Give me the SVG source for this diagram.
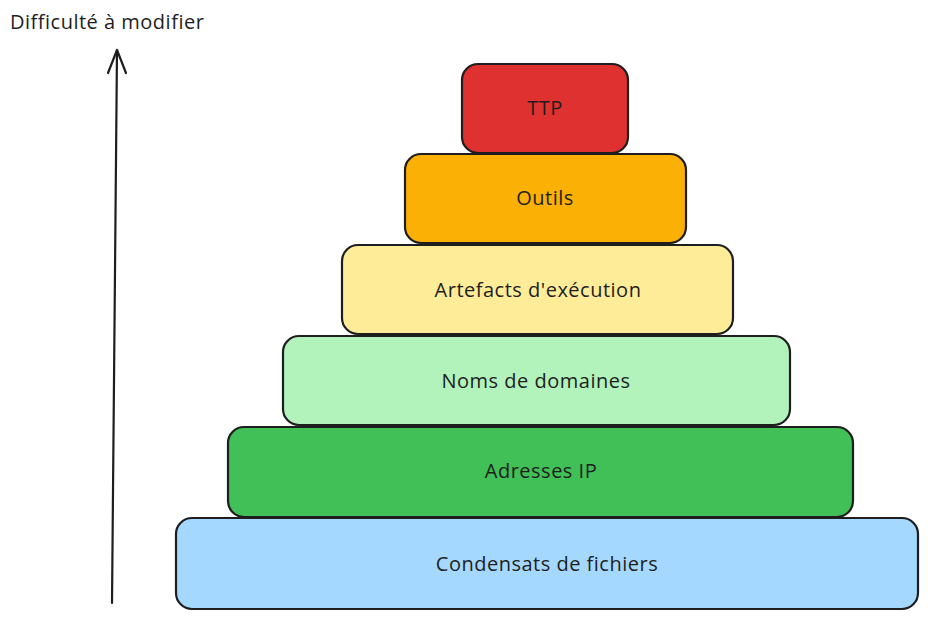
<svg xmlns="http://www.w3.org/2000/svg" width="928" height="619" viewBox="0 0 928 619">
<defs>
<style>
.box{stroke:#1e1e1e;stroke-width:2.2;}
.lbl{font-family:"Open Sans","Liberation Sans",sans-serif;font-size:20px;letter-spacing:0.5px;fill:#1e1e1e;text-anchor:middle;dominant-baseline:central;}
.edge{stroke:#1e1e1e;stroke-width:2.2;fill:none;stroke-linecap:round;stroke-linejoin:round;}
</style>
</defs>
<rect width="928" height="619" fill="#ffffff"/>
<g id="title"><text x="10" y="21" style="font-family:'Open Sans','Liberation Sans',sans-serif;font-size:20px;letter-spacing:0.5px;fill:#1e1e1e;dominant-baseline:central;">Difficulté à modifier</text></g>
<g id="connectors">
<path class="edge" d="M112 603 L117 50"/>
<path class="edge" d="M108 73 L117 50 L126 73"/>
</g>
<g id="n-condensats"><rect class="box" x="176" y="518" width="742" height="91" rx="16" fill="#a5d8ff"/><text class="lbl" x="547" y="563">Condensats de fichiers</text></g>
<g id="n-adresses"><rect class="box" x="228" y="427" width="625" height="90" rx="16" fill="#40c057"/><text class="lbl" x="541" y="470">Adresses IP</text></g>
<g id="n-noms"><rect class="box" x="283" y="336" width="507" height="89" rx="16" fill="#b2f2bb"/><text class="lbl" x="536" y="380">Noms de domaines</text></g>
<g id="n-artefacts"><rect class="box" x="342" y="245" width="391" height="89" rx="16" fill="#ffec99"/><text class="lbl" x="538" y="289">Artefacts d'exécution</text></g>
<g id="n-outils"><rect class="box" x="405" y="154" width="281" height="89" rx="16" fill="#fab005"/><text class="lbl" x="545" y="197">Outils</text></g>
<g id="n-ttp"><rect class="box" x="462" y="64" width="166" height="89" rx="16" fill="#e03131"/><text class="lbl" x="545" y="107">TTP</text></g>
</svg>
